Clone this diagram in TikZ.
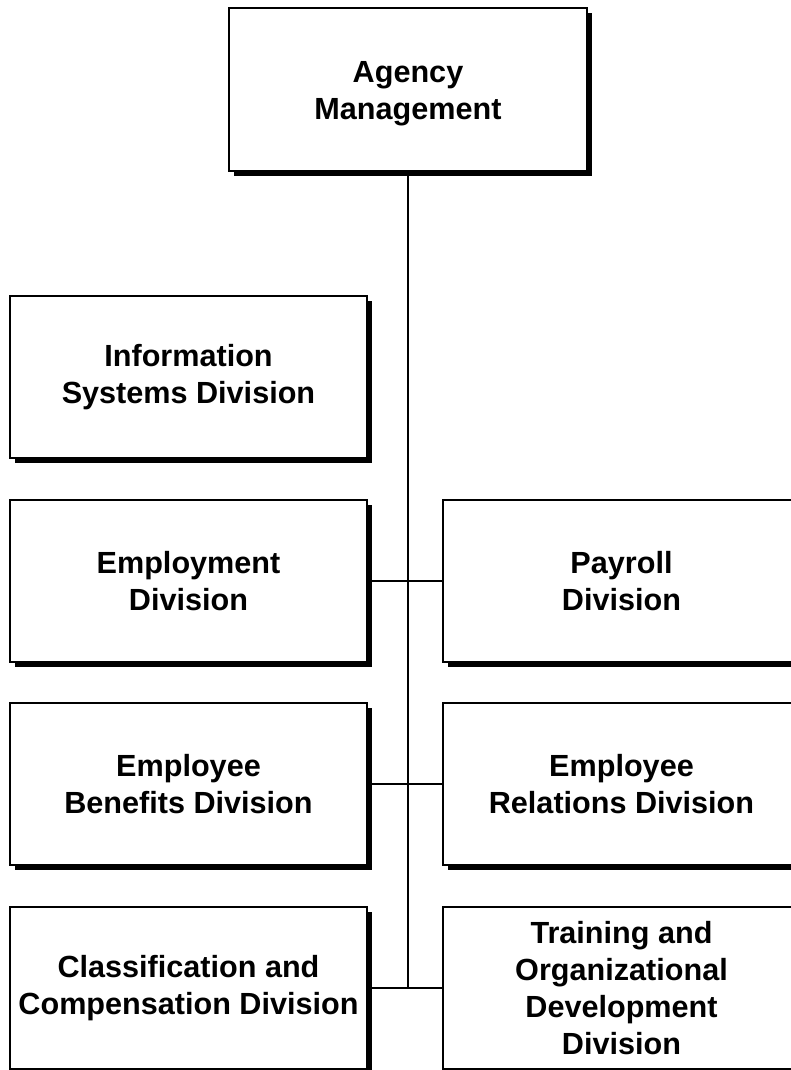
\documentclass[tikz,border=0pt]{standalone}
\usepackage{fontspec}
\setmainfont{Liberation Sans}
\usetikzlibrary{shadows}

\tikzset{
  unitbox/.style={draw=black, line width=1.3pt, fill=white, inner sep=0pt,
    minimum width=357pt, minimum height=162pt, align=center,
    font=\bfseries\fontsize{30.6}{37}\selectfont,
    drop shadow={shadow xshift=5pt, shadow yshift=-5pt, fill=black, opacity=1}},
  link/.style={draw=black, line width=1.8pt}
}

\begin{document}
\begin{tikzpicture}[x=1pt, y=-1pt]
    \useasboundingbox (0,0) rectangle (791,1070);

    \node[unitbox, minimum width=358pt, minimum height=163pt, text height=67pt] (agency) at (408,89.5) {Agency\\Management};

    \node[unitbox] (infosys) at (188.5,377) {Information\\Systems Division};
    \node[unitbox] (employ) at (188.5,581) {Employment\\Division};
    \node[unitbox] (benefits) at (188.5,784) {Employee\\Benefits Division};
    \node[unitbox] (classif) at (188.5,988) {Classification and\\Compensation Division};

    \node[unitbox] (payroll) at (621.5,581) {Payroll\\Division};
    \node[unitbox] (relations) at (621.5,784) {Employee\\Relations Division};
    \node[unitbox] (training) at (621.5,988) {Training and\\Organizational\\Development\\Division};

    % trunk
    \draw[link] (agency.south) -- (agency.south |- classif.east);

    % branches
    \draw[link] (employ.east) -- (payroll.west);
    \draw[link] (benefits.east) -- (relations.west);
    \draw[link] (classif.east) -- (training.west);
\end{tikzpicture}
\end{document}
